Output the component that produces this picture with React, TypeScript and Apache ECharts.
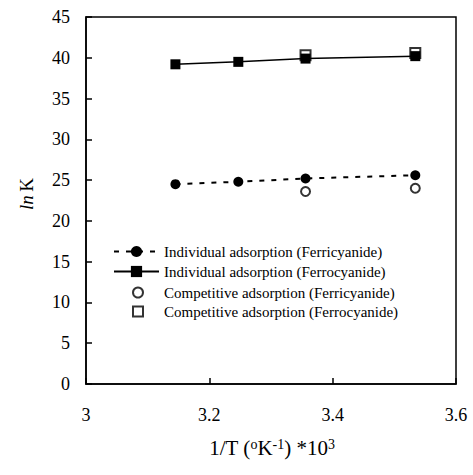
import React, { useEffect, useRef } from "react";
import * as echarts from "echarts";

const xIndividual = [3.145, 3.247, 3.356, 3.534];
const indFerricyanide = [24.5, 24.8, 25.2, 25.6];
const indFerrocyanide = [39.2, 39.5, 39.9, 40.2];
const xCompetitive = [3.356, 3.534];
const compFerricyanide = [23.6, 24.0];
const compFerrocyanide = [40.3, 40.6];

const seriesNames = [
  "Individual adsorption (Ferricyanide)",
  "Individual adsorption (Ferrocyanide)",
  "Competitive adsorption (Ferricyanide)",
  "Competitive adsorption (Ferrocyanide)",
];

const FONT = "'Liberation Serif', 'Times New Roman', serif";

const pair = (xs: number[], ys: number[]) => xs.map((x, i) => [x, ys[i]]);

export default function App() {
  const ref = useRef<HTMLDivElement>(null);
  useEffect(() => {
    document.body.style.margin = "0";
    if (!ref.current) return;
    const chart = echarts.init(ref.current, null, { renderer: "svg" });
    const legendText = { color: "#000", fontFamily: FONT, fontSize: 15 };
    chart.setOption({
      animation: false,
      backgroundColor: "#fff",
      grid: {
        left: 86,
        right: 17,
        top: 17,
        bottom: 91,
        show: true,
        borderColor: "#000",
        borderWidth: 1.5,
      },
      xAxis: {
        type: "value",
        min: 3,
        max: 3.6,
        interval: 0.2,
        axisLine: { lineStyle: { color: "#000", width: 1.5 } },
        axisTick: { inside: true, length: 6, lineStyle: { color: "#000", width: 1.5 } },
        axisLabel: { color: "#000", fontFamily: FONT, fontSize: 18, margin: 22 },
        splitLine: { show: false },
      },
      yAxis: {
        type: "value",
        min: 0,
        max: 45,
        interval: 5,
        axisLine: { show: true, lineStyle: { color: "#000", width: 1.5 } },
        axisTick: { show: true, inside: true, length: 6, lineStyle: { color: "#000", width: 1.5 } },
        axisLabel: { color: "#000", fontFamily: FONT, fontSize: 18, margin: 16 },
        splitLine: { show: false },
      },
      legend: [
        {
          orient: "vertical",
          left: 108,
          top: 239,
          itemWidth: 45,
          itemHeight: 14,
          itemGap: 5,
          textStyle: legendText,
          data: [seriesNames[0], seriesNames[1]],
        },
        {
          orient: "vertical",
          left: 127,
          top: 280,
          itemWidth: 10,
          itemHeight: 10,
          itemGap: 4,
          textStyle: { ...legendText, padding: [0, 0, 0, 16] },
          data: [seriesNames[2], seriesNames[3]],
        },
      ],
      graphic: [
        {
          type: "text",
          x: 272,
          y: 448,
          style: {
            text: "{b|1/T (}{s|o}{b|K}{s|-1}{b|) *10}{s|3}",
            align: "center",
            verticalAlign: "middle",
            fill: "#000",
            rich: {
              b: { fontFamily: FONT, fontSize: 21, fill: "#000", verticalAlign: "bottom" },
              s: { fontFamily: FONT, fontSize: 14, fill: "#000", verticalAlign: "top" },
            },
          },
        },
        {
          type: "text",
          x: 26,
          y: 194,
          rotation: Math.PI / 2,
          style: {
            text: "{i|ln} {b|K}",
            align: "center",
            verticalAlign: "middle",
            fill: "#000",
            rich: {
              i: { fontFamily: FONT, fontSize: 19, fontStyle: "italic", fill: "#000" },
              b: { fontFamily: FONT, fontSize: 19, fill: "#000" },
            },
          },
        },
      ],
      series: [
        {
          name: seriesNames[0],
          type: "line",
          data: pair(xIndividual, indFerricyanide),
          symbol: "circle",
          symbolSize: 10,
          itemStyle: { color: "#000" },
          lineStyle: { color: "#000", width: 2, type: [5, 7] },
        },
        {
          name: seriesNames[1],
          type: "line",
          data: pair(xIndividual, indFerrocyanide),
          symbol: "rect",
          symbolSize: 10,
          itemStyle: { color: "#000" },
          lineStyle: { color: "#000", width: 1.5, type: "solid" },
        },
        {
          name: seriesNames[2],
          type: "scatter",
          data: pair(xCompetitive, compFerricyanide),
          symbol: "emptyCircle",
          symbolSize: 9,
          itemStyle: { color: "#000", borderWidth: 1.5 },
        },
        {
          name: seriesNames[3],
          type: "scatter",
          data: pair(xCompetitive, compFerrocyanide),
          symbol: "emptyRect",
          symbolSize: 10,
          itemStyle: { color: "#000", borderWidth: 1.5 },
        },
      ],
    });
    return () => chart.dispose();
  }, []);
  return <div ref={ref} style={{ width: 473, height: 475 }} />;
}
